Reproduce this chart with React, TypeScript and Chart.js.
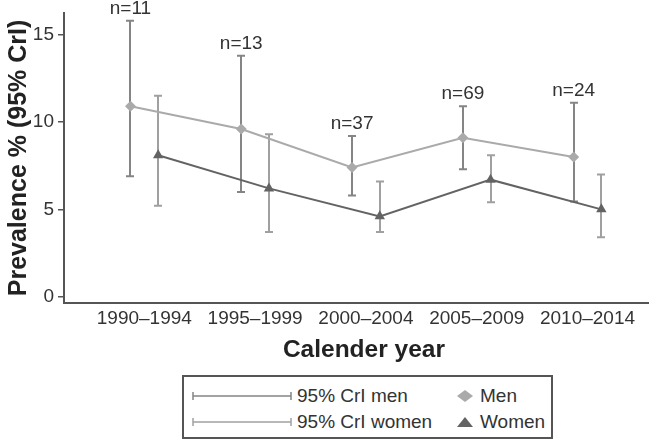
import React, { useEffect, useRef } from 'react';
import { Chart, registerables } from 'chart.js';

Chart.register(...registerables);

const categories = ['1990–1994', '1995–1999', '2000–2004', '2005–2009', '2010–2014'];
const nLabels = ['n=11', 'n=13', 'n=37', 'n=69', 'n=24'];
const menPrev = [10.9, 9.6, 7.4, 9.1, 8.0];
const menLow = [6.9, 6.0, 5.8, 7.3, 5.45];
const menHigh = [15.8, 13.8, 9.2, 10.9, 11.1];
const womenPrev = [8.1, 6.2, 4.6, 6.7, 5.0];
const womenLow = [5.2, 3.7, 3.7, 5.4, 3.4];
const womenHigh = [11.5, 9.3, 6.6, 8.1, 7.0];
const yTicks = [0, 5, 10, 15];
const xTitle = 'Calender year';
const yTitle = 'Prevalence % (95% CrI)';
const legendCI = ['95% CrI men', '95% CrI women'];
const legendSeries = ['Men', 'Women'];

const FONT = "'Liberation Sans', Arial, Helvetica, sans-serif";
const MEN_COLOR = '#aaaaaa';
const WOMEN_COLOR = '#636363';
const MEN_CI = '#858585';
const WOMEN_CI = '#a0a0a0';
const AXIS = '#555555';
const TEXT = '#333333';
const OFFSET = 0.125;

const overlayPlugin = {
  id: 'overlay',
  beforeDatasetsDraw(chart: any) {
    const { ctx, scales } = chart;
    const x = scales.x;
    const y = scales.y;
    ctx.save();
    const drawBars = (lo: number[], hi: number[], off: number, color: string) => {
      ctx.strokeStyle = color;
      ctx.lineWidth = 2;
      lo.forEach((l, i) => {
        const px = Math.round(x.getPixelForValue(i + 1 + off));
        const pl = y.getPixelForValue(l);
        const ph = y.getPixelForValue(hi[i]);
        ctx.beginPath();
        ctx.moveTo(px, pl);
        ctx.lineTo(px, ph);
        ctx.moveTo(px - 4, pl);
        ctx.lineTo(px + 4, pl);
        ctx.moveTo(px - 4, ph);
        ctx.lineTo(px + 4, ph);
        ctx.stroke();
      });
    };
    drawBars(menLow, menHigh, -OFFSET, MEN_CI);
    drawBars(womenLow, womenHigh, OFFSET, WOMEN_CI);
    ctx.restore();
  },
  afterDraw(chart: any) {
    const { ctx, scales } = chart;
    const x = scales.x;
    const y = scales.y;
    ctx.save();
    ctx.fillStyle = TEXT;
    ctx.font = `19px ${FONT}`;
    ctx.textAlign = 'center';
    ctx.textBaseline = 'alphabetic';
    nLabels.forEach((t, i) => {
      const px = x.getPixelForValue(i + 1 - OFFSET);
      const py = y.getPixelForValue(menHigh[i]) - 7;
      ctx.fillText(t, px, py);
    });
    ctx.fillStyle = '#222222';
    ctx.font = `bold 24.5px ${FONT}`;
    ctx.textBaseline = 'middle';
    ctx.fillText(xTitle, x.getPixelForValue(3) - 2, 350);
    ctx.restore();
  },
};

function Legend() {
  const rowStyle = (top: number): React.CSSProperties => ({
    position: 'absolute',
    top,
    left: 0,
    height: 26,
    width: '100%',
  });
  const textStyle = (left: number): React.CSSProperties => ({
    position: 'absolute',
    left,
    top: 0,
    lineHeight: '26px',
    fontSize: 19,
    fontFamily: FONT,
    color: TEXT,
    whiteSpace: 'nowrap',
  });
  const ciColors = [MEN_CI, WOMEN_CI];
  return (
    <div
      style={{
        position: 'absolute',
        left: 182,
        top: 375,
        width: 371,
        height: 64,
        boxSizing: 'border-box',
        border: `2px solid ${AXIS}`,
        background: '#fff',
      }}
    >
      {[0, 1].map((r) => (
        <div key={r} style={rowStyle(r === 0 ? 6 : 32)}>
          <svg
            width={110}
            height={26}
            style={{ position: 'absolute', left: 6, top: 0 }}
          >
            <line x1={3} y1={13} x2={101} y2={13} stroke={ciColors[r]} strokeWidth={1.5} />
            <line x1={3} y1={9} x2={3} y2={17} stroke={ciColors[r]} strokeWidth={1.5} />
            <line x1={101} y1={9} x2={101} y2={17} stroke={ciColors[r]} strokeWidth={1.5} />
          </svg>
          <span style={textStyle(113)}>{legendCI[r]}</span>
          <svg
            width={20}
            height={26}
            style={{ position: 'absolute', left: 271, top: 0 }}
          >
            {r === 0 ? (
              <polygon points="2,13 10,7 18,13 10,19" fill={MEN_COLOR} />
            ) : (
              <polygon points="2,18 10,8 18,18" fill={WOMEN_COLOR} />
            )}
          </svg>
          <span style={textStyle(296)}>{legendSeries[r]}</span>
        </div>
      ))}
    </div>
  );
}

export default function App() {
  const canvasRef = useRef<HTMLCanvasElement | null>(null);

  useEffect(() => {
    const canvas = canvasRef.current;
    if (!canvas) return;
    const chart = new Chart(canvas, {
      type: 'line',
      data: {
        datasets: [
          {
            label: 'Men',
            data: menPrev.map((v, i) => ({ x: i + 1 - OFFSET, y: v })),
            borderColor: MEN_COLOR,
            backgroundColor: MEN_COLOR,
            borderWidth: 2,
            pointStyle: 'rectRot',
            pointRadius: 5.5,
            pointBorderWidth: 0,
            pointBackgroundColor: MEN_COLOR,
            tension: 0,
          },
          {
            label: 'Women',
            data: womenPrev.map((v, i) => ({ x: i + 1 + OFFSET, y: v })),
            borderColor: WOMEN_COLOR,
            backgroundColor: WOMEN_COLOR,
            borderWidth: 2,
            pointStyle: 'triangle',
            pointRadius: 6,
            pointBorderWidth: 0,
            pointBackgroundColor: WOMEN_COLOR,
            tension: 0,
          },
        ],
      },
      options: {
        responsive: false,
        animation: false,
        devicePixelRatio: 1,
        layout: { padding: { top: 13, right: 1, bottom: 75.6, left: 0 } },
        plugins: {
          legend: { display: false },
          tooltip: { enabled: false },
        },
        scales: {
          x: {
            type: 'linear',
            min: 0.275,
            max: 5.546,
            grid: { display: false, drawTicks: false },
            border: { display: true, color: AXIS, width: 2 },
            ticks: {
              padding: 4,
              autoSkip: false,
              maxRotation: 0,
              color: TEXT,
              font: { family: FONT, size: 19 },
              callback: (v: any) => categories[Math.round(Number(v)) - 1] ?? '',
            },
            afterBuildTicks: (s: any) => {
              s.ticks = categories.map((_, i) => ({ value: i + 1 }));
            },
            afterFit: (s: any) => {
              s.height = 61.4;
              s.paddingLeft = 0;
              s.paddingRight = 0;
            },
          },
          y: {
            type: 'linear',
            min: -0.36,
            max: 16.24,
            grid: {
              display: true,
              drawOnChartArea: false,
              drawTicks: true,
              tickLength: 6,
              color: AXIS,
              lineWidth: 1.5,
            },
            border: { display: true, color: AXIS, width: 2 },
            ticks: {
              padding: 4,
              color: TEXT,
              font: { family: FONT, size: 19 },
              callback: (v: any) => String(v),
            },
            afterBuildTicks: (s: any) => {
              s.ticks = yTicks.map((v) => ({ value: v }));
            },
            title: {
              display: true,
              text: yTitle,
              color: '#222222',
              font: { family: FONT, size: 25, weight: 'bold' },
              padding: { top: 4, bottom: 0 },
            },
            afterFit: (s: any) => {
              s.width = 64;
              s.paddingTop = 0;
              s.paddingBottom = 0;
            },
          },
        },
      } as any,
      plugins: [overlayPlugin],
    });
    return () => chart.destroy();
  }, []);

  return (
    <div
      style={{
        position: 'fixed',
        left: 0,
        top: 0,
        width: 654,
        height: 440,
        background: '#ffffff',
        overflow: 'hidden',
      }}
    >
      <canvas
        ref={canvasRef}
        width={654}
        height={440}
        style={{ display: 'block', width: 654, height: 440 }}
      />
      <Legend />
    </div>
  );
}
